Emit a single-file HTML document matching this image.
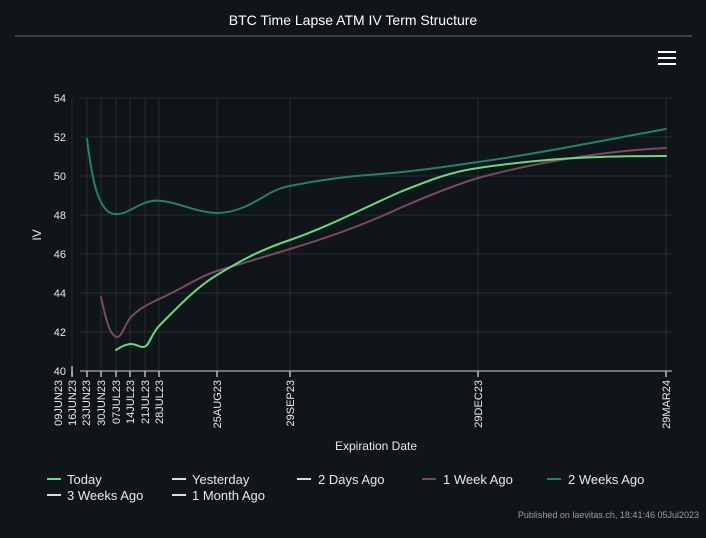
<!DOCTYPE html>
<html><head><meta charset="utf-8"><style>
html,body{margin:0;padding:0;background:#10151a;}
body{width:706px;height:538px;overflow:hidden;font-family:"Liberation Sans",sans-serif;}
</style></head><body>
<svg width="706" height="538" xmlns="http://www.w3.org/2000/svg" style="display:block">
<rect width="706" height="538" fill="#10151a"/>
<text x="353" y="25" fill="#ffffff" font-size="14" text-anchor="middle">BTC Time Lapse ATM IV Term Structure</text>
<line x1="15" y1="36" x2="692" y2="36" stroke="#6b7075" stroke-width="1"/>
<g stroke="#ffffff" stroke-width="2"><line x1="658" y1="52" x2="676" y2="52"/><line x1="658" y1="58" x2="676" y2="58"/><line x1="658" y1="64" x2="676" y2="64"/></g>
<g stroke="#252b2f" stroke-width="1">
<line x1="80" y1="98" x2="672" y2="98"/><line x1="80" y1="137" x2="672" y2="137"/><line x1="80" y1="176" x2="672" y2="176"/><line x1="80" y1="215" x2="672" y2="215"/><line x1="80" y1="254" x2="672" y2="254"/><line x1="80" y1="293" x2="672" y2="293"/><line x1="80" y1="332" x2="672" y2="332"/>
<line x1="72" y1="98" x2="72" y2="371"/><line x1="87" y1="98" x2="87" y2="371"/><line x1="101" y1="98" x2="101" y2="371"/><line x1="116" y1="98" x2="116" y2="371"/><line x1="130" y1="98" x2="130" y2="371"/><line x1="145" y1="98" x2="145" y2="371"/><line x1="159" y1="98" x2="159" y2="371"/><line x1="217" y1="98" x2="217" y2="371"/><line x1="290" y1="98" x2="290" y2="371"/><line x1="478" y1="98" x2="478" y2="371"/><line x1="666" y1="98" x2="666" y2="371"/>
</g>
<line x1="80" y1="371" x2="672" y2="371" stroke="#d0d0d0" stroke-width="1"/>
<g stroke="#bbbbbb" stroke-width="1.5">
<line x1="72" y1="371" x2="72" y2="377"/><line x1="87" y1="371" x2="87" y2="377"/><line x1="101" y1="371" x2="101" y2="377"/><line x1="116" y1="371" x2="116" y2="377"/><line x1="130" y1="371" x2="130" y2="377"/><line x1="145" y1="371" x2="145" y2="377"/><line x1="159" y1="371" x2="159" y2="377"/><line x1="217" y1="371" x2="217" y2="377"/><line x1="290" y1="371" x2="290" y2="377"/><line x1="478" y1="371" x2="478" y2="377"/><line x1="666" y1="371" x2="666" y2="377"/>
<line x1="72" y1="366" x2="72" y2="376"/>
</g>
<g fill="#e8e8e8" font-size="11" text-anchor="end">
<text x="66" y="102">54</text><text x="66" y="141">52</text><text x="66" y="180">50</text><text x="66" y="219">48</text><text x="66" y="258">46</text><text x="66" y="297">44</text><text x="66" y="336">42</text><text x="66" y="375">40</text>
</g>
<text transform="translate(41,235) rotate(-90)" fill="#e8e8e8" font-size="12" text-anchor="middle">IV</text>
<g fill="#e8e8e8" font-size="11" text-anchor="end">
<text transform="translate(62,380) rotate(-90)">09JUN23</text>
<text transform="translate(76,380) rotate(-90)">16JUN23</text>
<text transform="translate(90,380) rotate(-90)">23JUN23</text>
<text transform="translate(105,380) rotate(-90)">30JUN23</text>
<text transform="translate(120,380) rotate(-90)">07JUL23</text>
<text transform="translate(134,380) rotate(-90)">14JUL23</text>
<text transform="translate(149,380) rotate(-90)">21JUL23</text>
<text transform="translate(163,380) rotate(-90)">28JUL23</text>
<text transform="translate(221,380) rotate(-90)">25AUG23</text>
<text transform="translate(294,380) rotate(-90)">29SEP23</text>
<text transform="translate(482,380) rotate(-90)">29DEC23</text>
<text transform="translate(670,380) rotate(-90)">29MAR24</text>
</g>
<text x="376" y="450" fill="#e8e8e8" font-size="12" text-anchor="middle">Expiration Date</text>
<g fill="none" stroke-width="2" stroke-linejoin="round" stroke-linecap="round">
<path stroke="#1d8566" d="M87,139 C91,170 95,195 104,207 C108,213 112,214 117,214 C124,214 130,210 140,205 C148,201 154,200 162,201 C180,203 195,212 217,213 C235,213 250,205 265,196 C275,190 282,187 295,185 C320,180 350,176 380,174 C420,171 450,166 478,162 C530,155 600,141 666,129"/>
<path stroke="#7a4a5c" d="M101,297 C106,320 110,336 117,337 C122,337 126,322 131,317 C137,311 142,307 159,299 C180,290 200,276 217,271 C240,264 260,258 290,249 C330,237 370,222 400,208 C430,195 455,185 478,178 C530,164 600,151 666,148"/>
<path stroke="#5ede7c" d="M116,350 C122,346 127,344 131,344 C137,344 142,349 146,346 C150,343 151,335 159,326 C175,310 195,288 217,275 C240,261 260,250 290,240 C330,226 370,205 400,192 C430,180 450,172 478,168 C520,162 560,158 600,157 C630,156 650,156 666,156"/>
</g>
<g font-size="13" fill="#e8e8e8">
<line x1="47" y1="479" x2="61" y2="479" stroke="#5ede7c" stroke-width="2"/><text x="67" y="484">Today</text>
<line x1="172" y1="479" x2="186" y2="479" stroke="#dddddd" stroke-width="2"/><text x="192" y="484">Yesterday</text>
<line x1="297" y1="479" x2="311" y2="479" stroke="#dddddd" stroke-width="2"/><text x="318" y="484">2 Days Ago</text>
<line x1="422" y1="479" x2="436" y2="479" stroke="#7a4a5c" stroke-width="2"/><text x="443" y="484">1 Week Ago</text>
<line x1="547" y1="479" x2="561" y2="479" stroke="#1d8566" stroke-width="2"/><text x="568" y="484">2 Weeks Ago</text>
<line x1="47" y1="495" x2="61" y2="495" stroke="#dddddd" stroke-width="2"/><text x="67" y="500">3 Weeks Ago</text>
<line x1="172" y1="495" x2="186" y2="495" stroke="#dddddd" stroke-width="2"/><text x="192" y="500">1 Month Ago</text>
</g>
<text x="699" y="518" fill="#9a9ea2" font-size="9" text-anchor="end">Published on laevitas.ch, 18:41:46 05Jul2023</text>
</svg>
</body></html>
